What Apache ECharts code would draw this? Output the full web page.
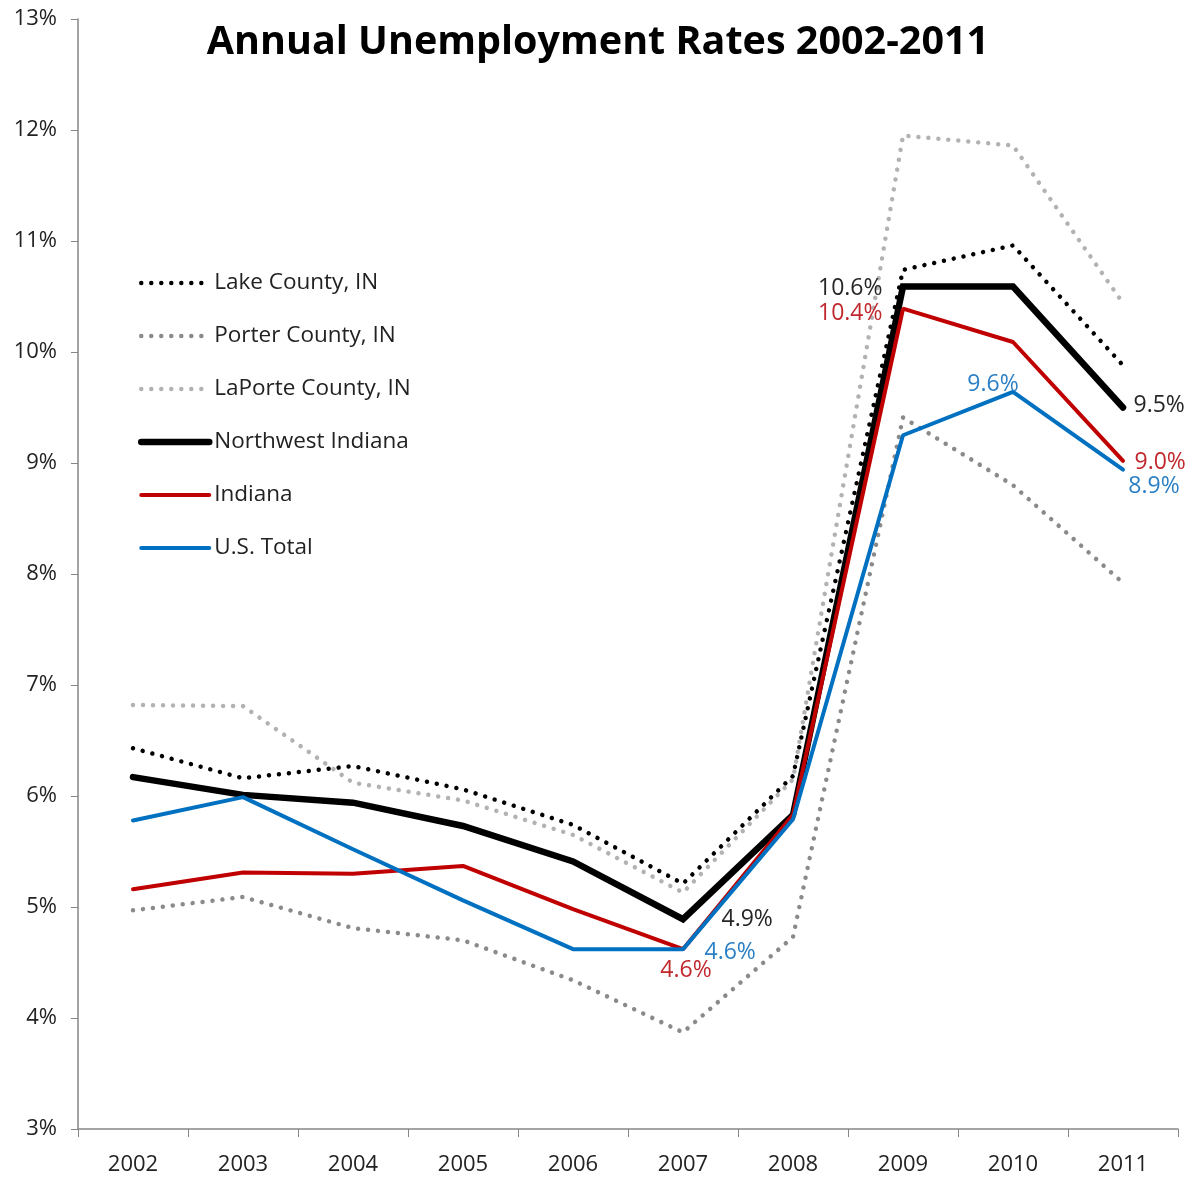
<!DOCTYPE html>
<html>
<head>
<meta charset="utf-8">
<title>Annual Unemployment Rates 2002-2011</title>
<script src="https://cdn.jsdelivr.net/npm/echarts@6/dist/echarts.min.js"></script>
<style>
  html, body { margin: 0; padding: 0; background: #fff; }
  #chart { width: 1196px; height: 1180px; }
</style>
</head>
<body>
<div id="chart"></div>
<script>
// Years on the category axis
const years = ['2002', '2003', '2004', '2005', '2006', '2007', '2008', '2009', '2010', '2011'];

// Annual unemployment rates, percent
const lakeCounty    = [6.43, 6.16, 6.27, 6.06, 5.74, 5.21, 6.18, 10.74, 10.96, 9.88];
const porterCounty  = [4.97, 5.09, 4.81, 4.70, 4.34, 3.87, 4.73, 9.41, 8.80, 7.92];
const laporteCounty = [6.82, 6.81, 6.12, 5.96, 5.65, 5.13, 6.15, 11.95, 11.86, 10.44];
const northwestIN   = [6.17, 6.01, 5.94, 5.73, 5.41, 4.89, 5.83, 10.59, 10.59, 9.50];
const indiana       = [5.16, 5.31, 5.30, 5.37, 4.98, 4.62, 5.83, 10.39, 10.09, 9.02];
const usTotal       = [5.78, 5.99, 5.52, 5.06, 4.62, 4.62, 5.79, 9.25, 9.64, 8.94];

// Y axis range and step, percent
const yMin = 3, yMax = 13, yStep = 1;

const FONT = 'Open Sans';

// Which points carry a value label, and where the label sits
const labelSpots = {
  'Northwest Indiana': {
    5: { position: 'right', distance: 38, offset: [0, 0] },
    7: { position: 'left', distance: 20, offset: [0, 2] },
    9: { position: 'right', distance: 10, offset: [0, -2] }
  },
  'Indiana': {
    5: { position: 'bottom', distance: 9, offset: [3, 0] },
    7: { position: 'left', distance: 20, offset: [0, 5] },
    9: { position: 'right', distance: 11, offset: [0, 2] }
  },
  'U.S. Total': {
    5: { position: 'right', distance: 21, offset: [0, 3] },
    8: { position: 'top', distance: -4, offset: [-20, 0] },
    9: { position: 'bottom', distance: 5, offset: [31, 0] }
  }
};

function withLabels(name, values, color) {
  const spots = labelSpots[name] || {};
  return values.map((v, i) => {
    const s = spots[i];
    if (!s) return v;
    return {
      value: v,
      label: {
        show: true,
        position: s.position,
        distance: s.distance,
        offset: s.offset,
        formatter: p => p.value.toFixed(1) + '%',
        color: color,
        fontFamily: FONT,
        fontSize: 23
      }
    };
  });
}

const dotted = [0.01, 10];

function lineSeries(name, values, style, labelColor) {
  return {
    name: name,
    type: 'line',
    data: withLabels(name, values, labelColor),
    // transparent point markers: they only anchor the value labels
    symbol: 'circle',
    symbolSize: 1,
    showSymbol: true,
    itemStyle: { color: 'rgba(0,0,0,0)', borderWidth: 0 },
    smooth: false,
    lineStyle: style,
    emphasis: { disabled: true },
    z: 2
  };
}

const chart = echarts.init(document.getElementById('chart'), null, { renderer: 'canvas' });

chart.setOption({
  animation: false,
  backgroundColor: '#ffffff',
  title: {
    text: 'Annual Unemployment Rates 2002-2011',
    left: 'center',
    top: 18,
    textStyle: { fontFamily: FONT, fontWeight: 'bold', fontSize: 39.5, color: '#000' }
  },
  legend: {
    orient: 'vertical',
    left: 138,
    top: 271,
    padding: 0,
    itemWidth: 68,
    itemHeight: 24,
    itemGap: 29,
    selectedMode: false,
    itemStyle: { opacity: 0 },
    lineStyle: { width: 'inherit' },
    textStyle: { fontFamily: FONT, fontSize: 22.5, lineHeight: 24, color: '#222' },
    data: ['Lake County, IN', 'Porter County, IN', 'LaPorte County, IN', 'Northwest Indiana', 'Indiana', 'U.S. Total']
  },
  grid: { left: 78, right: 18, top: 19, bottom: 51, containLabel: false },
  xAxis: {
    type: 'category',
    data: years,
    boundaryGap: true,
    axisLine: { lineStyle: { color: '#868686', width: 1.5 } },
    axisTick: { show: true, length: 8, lineStyle: { color: '#868686' } },
    axisLabel: { fontFamily: FONT, fontSize: 22, color: '#222', margin: 25 },
    splitLine: { show: false }
  },
  yAxis: {
    type: 'value',
    min: yMin,
    max: yMax,
    interval: yStep,
    axisLine: { show: true, lineStyle: { color: '#868686', width: 1.5 } },
    axisTick: { show: true, length: 7, lineStyle: { color: '#868686' } },
    axisLabel: { fontFamily: FONT, fontSize: 22, color: '#222', margin: 21, formatter: '{value}%' },
    splitLine: { show: false }
  },
  series: [
    lineSeries('Lake County, IN', lakeCounty, { color: '#000000', width: 4.5, type: dotted, cap: 'round' }),
    lineSeries('Porter County, IN', porterCounty, { color: '#8a8a8a', width: 4.5, type: dotted, cap: 'round' }),
    lineSeries('LaPorte County, IN', laporteCounty, { color: '#b2b2b2', width: 4.5, type: dotted, cap: 'round' }),
    lineSeries('Northwest Indiana', northwestIN, { color: '#000000', width: 6.5, type: 'solid', cap: 'round', join: 'miter' }, '#262626'),
    lineSeries('Indiana', indiana, { color: '#c00000', width: 4, type: 'solid', cap: 'round' }, '#c0282d'),
    lineSeries('U.S. Total', usTotal, { color: '#0070c0', width: 4, type: 'solid', cap: 'round' }, '#2b80c5')
  ]
});
</script>
</body>
</html>
